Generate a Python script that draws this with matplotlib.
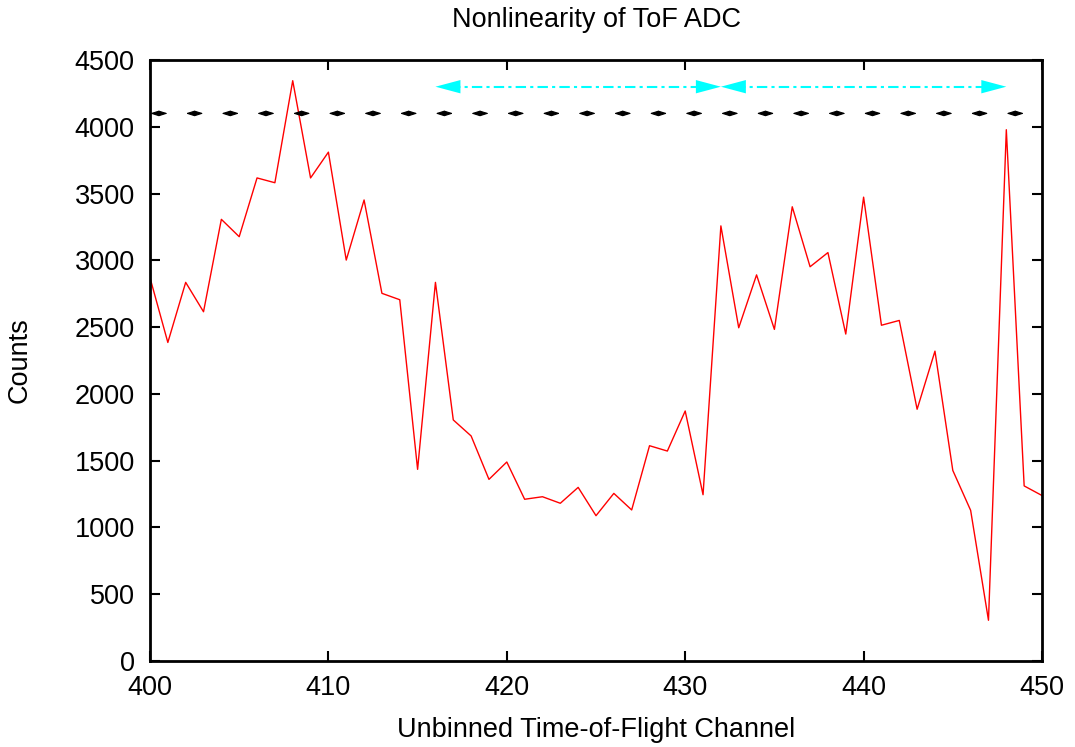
import matplotlib
matplotlib.use("Agg")
import matplotlib.pyplot as plt

# 通道号与计数
channels = list(range(400, 451))
counts = [
    2870, 2385, 2835, 2615, 3307, 3177, 3617, 3581, 4345, 3617,
    3810, 3002, 3452, 2753, 2705, 1435, 2835, 1805, 1685, 1360,
    1490, 1211, 1230, 1181, 1300, 1088, 1255, 1131, 1612, 1572,
    1872, 1245, 3258, 2495, 2891, 2483, 3401, 2952, 3058, 2448,
    3473, 2514, 2550, 1885, 2320, 1427, 1128, 305, 3978, 1311,
    1239,
]

# 黑色小双箭头：每个从偶数通道到下一个通道
bin_starts = [400, 402, 404, 406, 408, 410, 412, 414, 416, 418, 420, 422, 424,
              426, 428, 430, 432, 434, 436, 438, 440, 442, 444, 446, 448]
bin_level = 4100

# 青色双箭头
span_starts = [416, 432]
span_ends = [432, 448]
span_level = 4300

plt.rcParams['font.family'] = ['Liberation Sans', 'DejaVu Sans']
fs = 19.5

fig = plt.figure(figsize=(10.75, 7.47), dpi=100)
ax = fig.add_axes([150 / 1075, 1 - 661 / 747, (1042 - 150) / 1075, (661 - 60) / 747])

ax.plot(channels, counts, color="red", lw=1.0)

for s in bin_starts:
    ax.annotate("", xy=(s + 1, bin_level), xytext=(s, bin_level),
                arrowprops=dict(arrowstyle="<|-|>,head_length=0.5,head_width=0.16",
                                color="black", lw=0.8, shrinkA=0, shrinkB=0,
                                mutation_scale=10))

for a, b in zip(span_starts, span_ends):
    ax.plot([a + 0.8, b - 0.8], [span_level, span_level], color="cyan",
            lw=1.5, linestyle=(0, (5, 2, 1.5, 2)))
    ax.annotate("", xy=(b, span_level), xytext=(a, span_level),
                arrowprops=dict(arrowstyle="<|-|>,head_length=1.2,head_width=0.32",
                                color="cyan", lw=0.0, shrinkA=0, shrinkB=0,
                                mutation_scale=15))

ax.set_xlim(400, 450)
ax.set_ylim(0, 4500)
ax.set_xticks([400, 410, 420, 430, 440, 450])
ax.set_yticks([0, 500, 1000, 1500, 2000, 2500, 3000, 3500, 4000, 4500])

ax.tick_params(direction="in", length=7, width=1.5, labelsize=fs,
               top=True, right=True)
ax.tick_params(axis="x", pad=10)
ax.tick_params(axis="y", pad=11)
for sp in ax.spines.values():
    sp.set_linewidth(2)

ax.set_xlabel("Unbinned Time-of-Flight Channel", fontsize=fs)
ax.xaxis.set_label_coords(0.5, (661 - 730) / 601)
ax.xaxis.label.set_va("center")
ax.set_ylabel("Counts", fontsize=fs)
ax.yaxis.set_label_coords((20 - 150) / 892, 0.5)
ax.yaxis.label.set_va("center")

fig.text(596 / 1075, 1 - 20 / 747, "Nonlinearity of ToF ADC", fontsize=fs,
         ha="center", va="center")

fig.savefig("out.png", dpi=100)
